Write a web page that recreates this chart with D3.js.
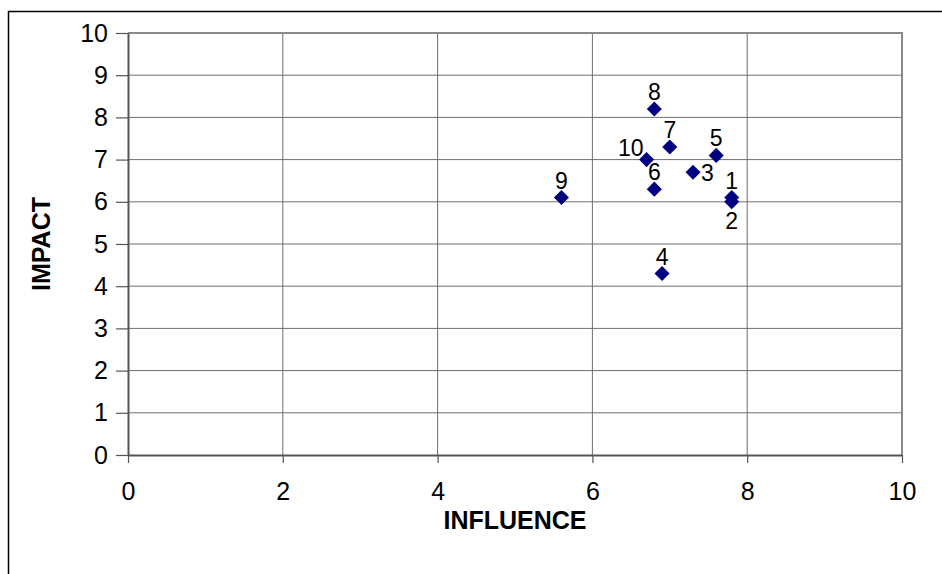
<!DOCTYPE html>
<html>
<head>
<meta charset="utf-8">
<script src="https://cdn.jsdelivr.net/npm/d3@7"></script>
<style>
  body { margin: 0; background: #fff; }
  svg { display: block; font-family: Arial, "Liberation Sans", sans-serif; }
</style>
</head>
<body>
<div id="chart"></div>
<script>
// point ids and their values
const ids = ["1", "2", "3", "4", "5", "6", "7", "8", "9", "10"];
const influence = [7.8, 7.8, 7.3, 6.9, 7.6, 6.8, 7.0, 6.8, 5.6, 6.7];
const impact = [6.1, 6.0, 6.7, 4.3, 7.1, 6.3, 7.3, 8.2, 6.1, 7.0];
const labelPos = ["above", "below", "right", "above", "above", "above", "above", "above", "above", "left"];

const xTicks = [0, 2, 4, 6, 8, 10];
const yTicks = [0, 1, 2, 3, 4, 5, 6, 7, 8, 9, 10];

const W = 942, H = 574;
const plot = { left: 128, right: 902, top: 33, bottom: 455 };

const points = ids.map((id, i) => ({ id, x: influence[i], y: impact[i], pos: labelPos[i] }));

const svg = d3.select("#chart").append("svg")
  .attr("width", W)
  .attr("height", H);

// outer chart frame (only top and left are visible in the picture)
svg.append("rect")
  .attr("x", 8.5).attr("y", 11.5)
  .attr("width", 1000).attr("height", 1000)
  .attr("fill", "none")
  .attr("stroke", "#000")
  .attr("stroke-width", 1.5);

const x = d3.scaleLinear().domain([0, 10]).range([plot.left, plot.right]);
const y = d3.scaleLinear().domain([0, 10]).range([plot.bottom, plot.top]);

// gridlines
svg.append("g")
  .selectAll("line")
  .data(yTicks.slice(1))
  .join("line")
  .attr("x1", plot.left).attr("x2", plot.right)
  .attr("y1", d => y(d)).attr("y2", d => y(d))
  .attr("stroke", "#6e6e6e")
  .attr("stroke-width", 1);

svg.append("g")
  .selectAll("line")
  .data(xTicks.slice(1))
  .join("line")
  .attr("x1", d => x(d)).attr("x2", d => x(d))
  .attr("y1", plot.top).attr("y2", plot.bottom)
  .attr("stroke", "#6e6e6e")
  .attr("stroke-width", 1);

// plot border top and right
svg.append("path")
  .attr("d", `M${plot.left},${plot.top}H${plot.right}V${plot.bottom}`)
  .attr("fill", "none")
  .attr("stroke", "#8a8a8a")
  .attr("stroke-width", 2);

// axes
const xAxis = svg.append("g")
  .attr("transform", `translate(0,${plot.bottom})`)
  .call(d3.axisBottom(x).tickValues(xTicks).tickSize(8).tickPadding(19).tickSizeOuter(0));

const yAxis = svg.append("g")
  .attr("transform", `translate(${plot.left},0)`)
  .call(d3.axisLeft(y).tickValues(yTicks).tickSize(12).tickPadding(8).tickSizeOuter(0));

[xAxis, yAxis].forEach(g => {
  g.select(".domain").attr("stroke", "#555").attr("stroke-width", 2);
  g.selectAll(".tick line").attr("stroke", "#555").attr("stroke-width", 1.2);
  g.selectAll(".tick text")
    .attr("fill", "#000")
    .style("font-size", "25px")
    .style("font-family", "Arial, 'Liberation Sans', sans-serif");
});

// axis titles
svg.append("text")
  .attr("x", (plot.left + plot.right) / 2)
  .attr("y", 529)
  .attr("text-anchor", "middle")
  .style("font-size", "25px")
  .style("font-weight", "bold")
  .text("INFLUENCE");

svg.append("text")
  .attr("transform", `translate(50,${(plot.top + plot.bottom) / 2}) rotate(-90)`)
  .attr("text-anchor", "middle")
  .style("font-size", "25px")
  .style("font-weight", "bold")
  .text("IMPACT");

// diamond markers
const diamond = d3.symbol().type(d3.symbolDiamond2).size(145);
svg.append("g")
  .selectAll("path")
  .data(points)
  .join("path")
  .attr("transform", d => `translate(${x(d.x)},${y(d.y)})`)
  .attr("d", diamond)
  .attr("fill", "#000080");

// data labels
svg.append("g")
  .selectAll("text")
  .data(points)
  .join("text")
  .attr("x", d => {
    const cx = x(d.x);
    if (d.pos === "right") return cx + 8;
    if (d.pos === "left") return cx - 3;
    return cx;
  })
  .attr("y", d => {
    const cy = y(d.y);
    if (d.pos === "below") return cy + 27;
    if (d.pos === "right") return cy + 9;
    if (d.pos === "left") return cy - 4;
    return cy - 9;
  })
  .attr("text-anchor", d => d.pos === "right" ? "start" : d.pos === "left" ? "end" : "middle")
  .style("font-size", "23px")
  .text(d => d.id);
</script>
</body>
</html>
